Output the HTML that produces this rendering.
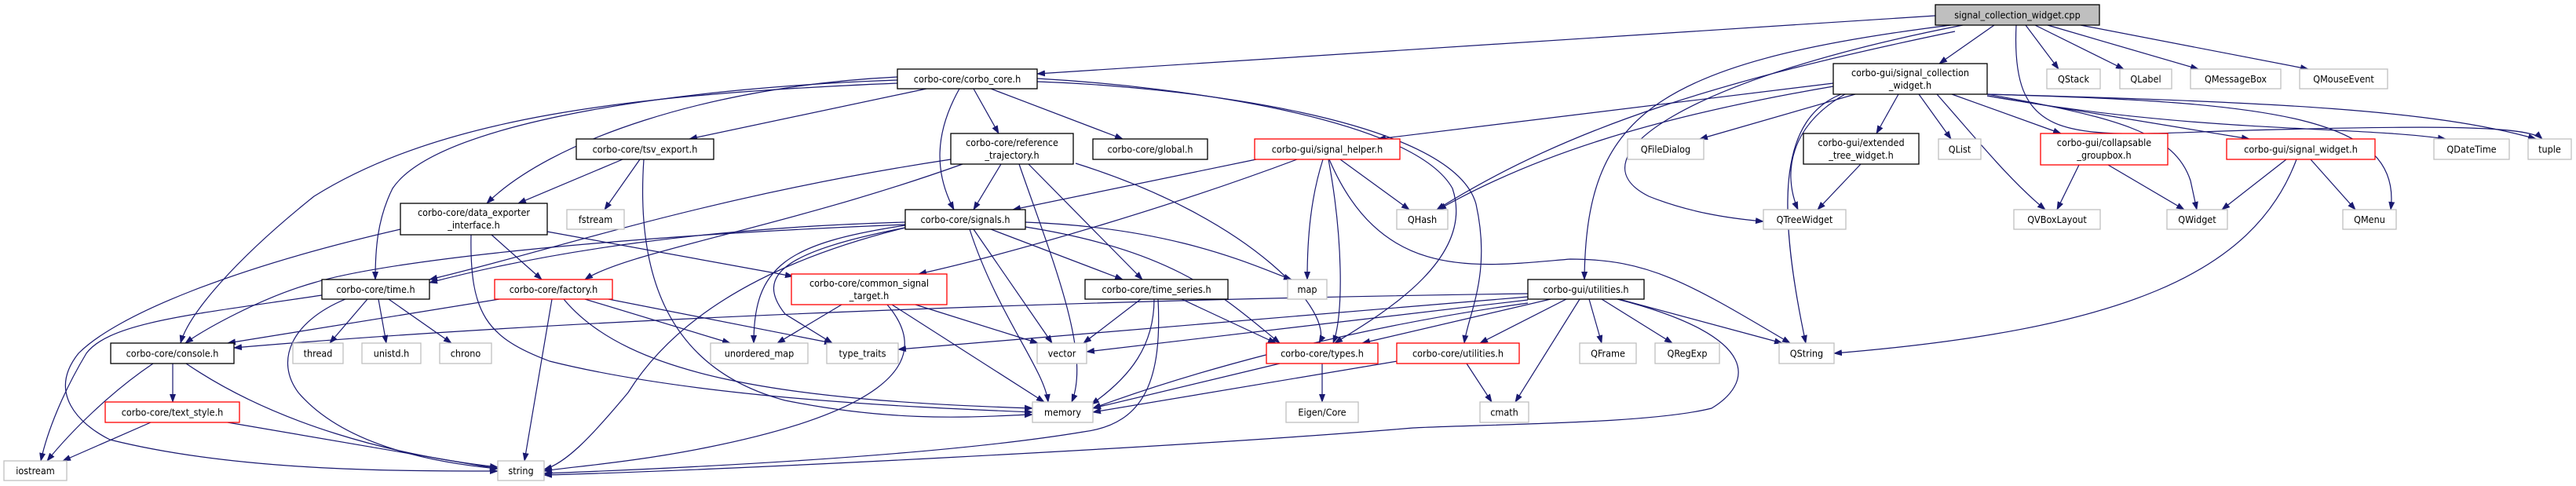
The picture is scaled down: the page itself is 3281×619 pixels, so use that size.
<!DOCTYPE html>
<html><head><meta charset="utf-8"><style>
html,body{margin:0;padding:0;background:#fff;}
svg{display:block;}
text{font-family:"DejaVu Sans Condensed","DejaVu Sans","Liberation Sans",sans-serif;font-size:12.5px;fill:#000;}
.e{fill:none;stroke:#191970;stroke-width:1.2;}
.n{fill:#fff;stroke:#000;stroke-width:1.3;}
.g{fill:#fff;stroke:#bfbfbf;stroke-width:1.3;}
.r{fill:#fff;stroke:#ff0000;stroke-width:1.3;}
</style></head><body>
<svg width="3281" height="619" viewBox="0 0 3281 619" xmlns="http://www.w3.org/2000/svg">
<defs><marker id="a" markerWidth="11" markerHeight="8" refX="10" refY="4" orient="auto" markerUnits="userSpaceOnUse"><path d="M0,0 L11,4 L0,8 z" fill="#191970"/></marker></defs>
<g class="e" marker-end="url(#a)">
<path d="M2465,20 L1321,94"/>
<path d="M2540,32 L2470,81"/>
<path d="M2580,32 L2622,88"/>
<path d="M2592,32 L2705,88"/>
<path d="M2608,32 L2800,88"/>
<path d="M2650,32 L2940,88"/>
<path d="M2485,32 C2100,80 2020,150 2018,356"/>
<path d="M2500,32 C2150,100 2000,200 2100,250 C2150,270 2200,278 2246,282"/>
<path d="M2490,40 C2200,100 2000,160 1830,267"/>
<path d="M2568,32 C2560,200 2650,170 2900,165 C3100,160 3220,160 3238,177"/>
<path d="M1180,113 L878,177"/>
<path d="M1222,113 C1190,170 1190,220 1215,267"/>
<path d="M1240,113 L1272,170"/>
<path d="M1262,113 L1430,177"/>
<path d="M1143,98 C900,110 700,180 620,259"/>
<path d="M1143,102 C900,110 560,150 500,240 C480,280 478,320 478,356"/>
<path d="M1143,106 C800,120 560,150 400,250 C300,330 240,400 230,437"/>
<path d="M1321,100 C1500,110 1800,150 1850,240 C1880,330 1760,400 1700,437"/>
<path d="M1321,104 C1500,110 1850,150 1880,260 C1900,350 1870,400 1865,437"/>
<path d="M793,203 L660,259"/>
<path d="M815,203 L770,267"/>
<path d="M820,203 C810,350 850,470 1000,510 C1150,540 1250,530 1315,528"/>
<path d="M510,292 C300,340 150,400 100,450 C60,500 100,540 140,560 C300,600 500,600 634,600"/>
<path d="M626,299 L690,356"/>
<path d="M600,299 C598,400 620,430 700,460 C900,510 1200,520 1315,525"/>
<path d="M697,295 L1010,352"/>
<path d="M1275,209 L1240,267"/>
<path d="M1211,203 C900,250 700,320 547,356"/>
<path d="M1226,209 C1000,290 800,320 745,356"/>
<path d="M1298,209 C1340,330 1390,450 1365,512"/>
<path d="M1310,209 L1455,356"/>
<path d="M1370,208 C1600,280 1700,400 1680,437"/>
<path d="M1600,203 L1290,267"/>
<path d="M1652,203 C1500,260 1300,320 1170,349"/>
<path d="M1707,203 L1795,267"/>
<path d="M1685,203 C1670,250 1665,300 1665,356"/>
<path d="M1692,203 C1710,300 1712,400 1698,437"/>
<path d="M1693,203 C1760,360 1880,340 2000,330 C2100,330 2150,360 2280,437"/>
<path d="M1153,283 C900,290 700,320 547,360"/>
<path d="M1153,286 C800,300 500,330 400,360 C330,380 260,420 236,437"/>
<path d="M1153,287 C1000,310 960,340 960,437"/>
<path d="M1153,290 C1000,320 960,350 1000,400 L1060,437"/>
<path d="M1306,283 C1500,290 1600,340 1645,356"/>
<path d="M1240,292 L1340,437"/>
<path d="M1235,292 C1270,400 1330,470 1335,512"/>
<path d="M1262,292 L1430,356"/>
<path d="M1306,289 C1500,320 1560,380 1630,437"/>
<path d="M1153,290 C950,340 850,420 800,500 C750,560 720,590 693,598"/>
<path d="M1072,388 L990,437"/>
<path d="M1166,388 L1322,437"/>
<path d="M1136,388 L1330,512"/>
<path d="M1130,388 C1200,470 1100,530 900,570 C800,590 720,595 693,600"/>
<path d="M1453,381 L1380,437"/>
<path d="M1470,381 C1470,440 1440,480 1390,515"/>
<path d="M1505,381 L1625,437"/>
<path d="M1475,381 C1480,480 1460,540 1380,550 C1200,580 900,595 693,603"/>
<path d="M410,376 C250,400 140,410 110,450 C80,500 60,550 52,587"/>
<path d="M468,381 L420,437"/>
<path d="M482,381 L492,437"/>
<path d="M495,381 L575,437"/>
<path d="M440,381 C370,410 350,460 380,500 C440,570 560,590 634,597"/>
<path d="M636,381 L290,437"/>
<path d="M703,381 L668,587"/>
<path d="M718,381 C800,480 1000,510 1315,520"/>
<path d="M745,381 L930,437"/>
<path d="M775,381 L1060,437"/>
<path d="M220,463 L220,512"/>
<path d="M195,463 C140,500 90,550 60,587"/>
<path d="M237,463 C350,540 500,580 634,595"/>
<path d="M192,538 L80,587"/>
<path d="M290,538 L634,597"/>
<path d="M1684,463 L1684,512"/>
<path d="M1630,463 L1392,520"/>
<path d="M1868,463 L1900,512"/>
<path d="M1780,460 L1392,525"/>
<path d="M1975,381 L1735,437"/>
<path d="M1995,381 L1885,437"/>
<path d="M2012,381 L1930,512"/>
<path d="M2024,381 L2040,437"/>
<path d="M2040,381 L2130,437"/>
<path d="M2062,381 L2270,437"/>
<path d="M1946,374 C1500,380 800,400 298,443"/>
<path d="M1946,378 L1144,445"/>
<path d="M1946,382 L1384,448"/>
<path d="M1946,386 C1700,420 1500,480 1392,520"/>
<path d="M2060,381 C2250,430 2230,490 2180,520 C2100,540 1900,540 1800,545 C1500,570 900,600 693,605"/>
<path d="M2335,106 L1755,177"/>
<path d="M2363,120 L2165,177"/>
<path d="M2418,120 L2390,170"/>
<path d="M2444,120 L2485,177"/>
<path d="M2467,120 C2520,180 2560,230 2605,267"/>
<path d="M2486,120 L2625,170"/>
<path d="M2531,120 C2700,150 2770,170 2790,230 L2798,267"/>
<path d="M2531,122 L2865,177"/>
<path d="M2531,122 C2800,170 3000,160 3115,177"/>
<path d="M2531,120 C2900,130 3100,140 3230,177"/>
<path d="M2531,120 C2900,130 3060,150 3045,267"/>
<path d="M2345,120 C2270,150 2260,250 2300,437"/>
<path d="M2350,120 C2280,160 2270,220 2290,267"/>
<path d="M2335,110 C2100,150 1950,200 1832,267"/>
<path d="M2370,209 L2315,267"/>
<path d="M2648,210 L2620,267"/>
<path d="M2685,210 L2782,267"/>
<path d="M2912,203 L2830,267"/>
<path d="M2943,203 L3000,267"/>
<path d="M2925,203 C2870,350 2700,420 2336,450"/>
</g>
<g text-anchor="middle">
<rect x="2465" y="6" width="209" height="26" fill="#bfbfbf" stroke="#000" stroke-width="1.3"/><text x="2569.5" y="23.5">signal_collection_widget.cpp</text>
<rect class="n" x="1143" y="88" width="178" height="25"/><text x="1232" y="105">corbo-core/corbo_core.h</text>
<rect class="n" x="2335" y="81" width="196" height="39"/><text x="2433" y="97">corbo-gui/signal_collection</text><text x="2433" y="113">_widget.h</text>
<rect class="g" x="2607" y="88" width="68" height="25"/><text x="2641" y="105">QStack</text>
<rect class="g" x="2700" y="88" width="66" height="25"/><text x="2733" y="105">QLabel</text>
<rect class="g" x="2790" y="88" width="115" height="25"/><text x="2847.5" y="105">QMessageBox</text>
<rect class="g" x="2929" y="88" width="112" height="25"/><text x="2985" y="105">QMouseEvent</text>
<rect class="n" x="734" y="177" width="175" height="26"/><text x="821.5" y="194.5">corbo-core/tsv_export.h</text>
<rect class="n" x="1211" y="170" width="156" height="39"/><text x="1289" y="186">corbo-core/reference</text><text x="1289" y="202">_trajectory.h</text>
<rect class="n" x="1392" y="177" width="146" height="26"/><text x="1465" y="194.5">corbo-core/global.h</text>
<rect class="r" x="1598" y="177" width="185" height="26"/><text x="1690.5" y="194.5">corbo-gui/signal_helper.h</text>
<rect class="g" x="2073" y="177" width="97" height="26"/><text x="2121.5" y="194.5">QFileDialog</text>
<rect class="n" x="2297" y="170" width="147" height="39"/><text x="2370.5" y="186">corbo-gui/extended</text><text x="2370.5" y="202">_tree_widget.h</text>
<rect class="g" x="2469" y="177" width="54" height="26"/><text x="2496" y="194.5">QList</text>
<rect class="r" x="2599" y="170" width="162" height="40"/><text x="2680" y="186">corbo-gui/collapsable</text><text x="2680" y="202">_groupbox.h</text>
<rect class="r" x="2836" y="177" width="189" height="26"/><text x="2930.5" y="194.5">corbo-gui/signal_widget.h</text>
<rect class="g" x="3100" y="177" width="96" height="26"/><text x="3148" y="194.5">QDateTime</text>
<rect class="g" x="3220" y="177" width="55" height="26"/><text x="3247.5" y="194.5">tuple</text>
<rect class="n" x="510" y="259" width="187" height="40"/><text x="603.5" y="275">corbo-core/data_exporter</text><text x="603.5" y="291">_interface.h</text>
<rect class="g" x="722" y="267" width="73" height="25"/><text x="758.5" y="284">fstream</text>
<rect class="n" x="1153" y="267" width="153" height="25"/><text x="1229.5" y="284">corbo-core/signals.h</text>
<rect class="g" x="1779" y="267" width="65" height="25"/><text x="1811.5" y="284">QHash</text>
<rect class="g" x="2246" y="267" width="105" height="25"/><text x="2298.5" y="284">QTreeWidget</text>
<rect class="g" x="2565" y="267" width="110" height="25"/><text x="2620" y="284">QVBoxLayout</text>
<rect class="g" x="2760" y="267" width="77" height="25"/><text x="2798.5" y="284">QWidget</text>
<rect class="g" x="2984" y="267" width="68" height="25"/><text x="3018" y="284">QMenu</text>
<rect class="n" x="410" y="356" width="137" height="25"/><text x="478.5" y="373">corbo-core/time.h</text>
<rect class="r" x="630" y="356" width="150" height="25"/><text x="705" y="373">corbo-core/factory.h</text>
<rect class="r" x="1008" y="349" width="198" height="39"/><text x="1107" y="365">corbo-core/common_signal</text><text x="1107" y="381">_target.h</text>
<rect class="n" x="1382" y="356" width="182" height="25"/><text x="1473" y="373">corbo-core/time_series.h</text>
<rect class="g" x="1640" y="356" width="50" height="25"/><text x="1665" y="373">map</text>
<rect class="n" x="1946" y="356" width="148" height="25"/><text x="2020" y="373">corbo-gui/utilities.h</text>
<rect class="n" x="141" y="437" width="157" height="26"/><text x="219.5" y="454.5">corbo-core/console.h</text>
<rect class="g" x="373" y="437" width="64" height="26"/><text x="405" y="454.5">thread</text>
<rect class="g" x="461" y="437" width="75" height="26"/><text x="498.5" y="454.5">unistd.h</text>
<rect class="g" x="560" y="437" width="66" height="26"/><text x="593" y="454.5">chrono</text>
<rect class="g" x="905" y="437" width="124" height="26"/><text x="967" y="454.5">unordered_map</text>
<rect class="g" x="1053" y="437" width="91" height="26"/><text x="1098.5" y="454.5">type_traits</text>
<rect class="g" x="1321" y="437" width="63" height="26"/><text x="1352.5" y="454.5">vector</text>
<rect class="r" x="1613" y="437" width="142" height="26"/><text x="1684" y="454.5">corbo-core/types.h</text>
<rect class="r" x="1779" y="437" width="156" height="26"/><text x="1857" y="454.5">corbo-core/utilities.h</text>
<rect class="g" x="2012" y="437" width="72" height="26"/><text x="2048" y="454.5">QFrame</text>
<rect class="g" x="2108" y="437" width="82" height="26"/><text x="2149" y="454.5">QRegExp</text>
<rect class="g" x="2266" y="437" width="70" height="26"/><text x="2301" y="454.5">QString</text>
<rect class="r" x="134" y="512" width="171" height="26"/><text x="219.5" y="529.5">corbo-core/text_style.h</text>
<rect class="g" x="1315" y="512" width="77" height="26"/><text x="1353.5" y="529.5">memory</text>
<rect class="g" x="1638" y="512" width="92" height="26"/><text x="1684" y="529.5">Eigen/Core</text>
<rect class="g" x="1885" y="512" width="62" height="26"/><text x="1916" y="529.5">cmath</text>
<rect class="g" x="5" y="587" width="80" height="25"/><text x="45" y="604">iostream</text>
<rect class="g" x="634" y="587" width="59" height="25"/><text x="663.5" y="604">string</text>
</g>
</svg>
</body></html>
